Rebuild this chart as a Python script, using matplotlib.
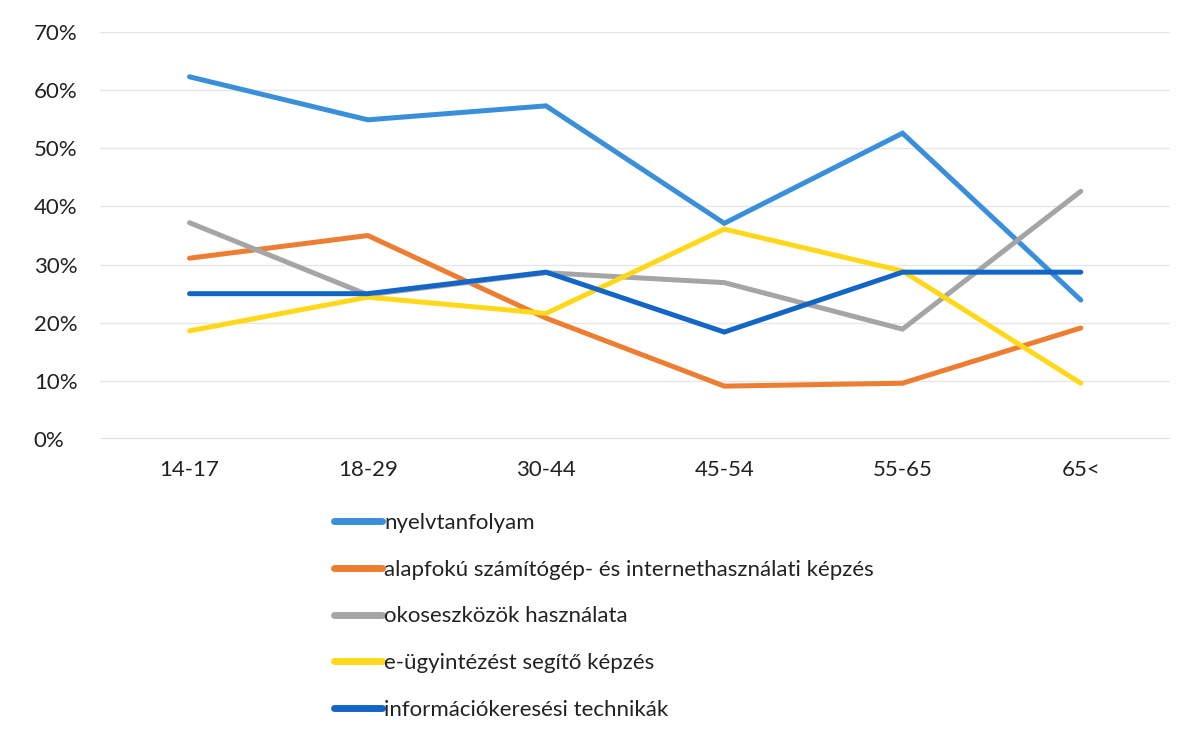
import matplotlib
matplotlib.use("Agg")
import matplotlib.pyplot as plt
from matplotlib.ticker import FuncFormatter

categories = ["14-17", "18-29", "30-44", "45-54", "55-65", "65<"]
series_names = [
    "nyelvtanfolyam",
    "alapfokú számítógép- és internethasználati képzés",
    "okoseszközök használata",
    "e-ügyintézést segítő képzés",
    "információkeresési technikák",
]
nyelv = [62.3, 54.9, 57.3, 37.1, 52.6, 23.9]
alap = [31.1, 35.0, 20.8, 9.1, 9.6, 19.1]
okos = [37.2, 24.8, 28.6, 26.9, 18.9, 42.6]
eugy = [18.6, 24.4, 21.6, 36.1, 28.9, 9.6]
info = [25.0, 25.0, 28.7, 18.4, 28.7, 28.7]
colors = ["#3A8FDA", "#ED7D31", "#A5A5A5", "#FFD81A", "#1466C6"]

plt.rcParams['font.family'] = ['Lato', 'DejaVu Sans']

fig = plt.figure(figsize=(11.95, 7.36), dpi=100)
ax = fig.add_axes([0.084, 0.4035, 0.895, 0.553])

x = list(range(len(categories)))
for vals, name, c in zip([nyelv, alap, okos, eugy, info], series_names, colors):
    ax.plot(x, vals, color=c, lw=3.6, label=name, solid_capstyle='round', solid_joinstyle='miter')

ax.set_xlim(-0.5, len(categories) - 0.5)
ax.set_ylim(0, 70)
ax.set_yticks(range(0, 71, 10))
ax.yaxis.set_major_formatter(FuncFormatter(lambda v, p: f"{int(v)}%"))
ax.set_xticks(x)
ax.set_xticklabels(categories)
ax.grid(axis='y', color='#E6E6E6', lw=1)
ax.set_axisbelow(True)
for s in ax.spines.values():
    s.set_visible(False)
ax.axhline(0, color='#D9D9D9', lw=1.2, zorder=0)
ax.tick_params(axis='both', length=0, labelsize=16, colors='#222222')
ax.tick_params(axis='y', pad=48)
ax.tick_params(axis='x', pad=15)
for lab in ax.get_yticklabels():
    lab.set_horizontalalignment('left')

leg = fig.legend(loc='upper left', bbox_to_anchor=(0.2706, 0.318), frameon=False,
                 fontsize=16, handlelength=2.15, handletextpad=0.1,
                 labelspacing=1.2, borderpad=0)
for t in leg.get_texts():
    t.set_color('#222222')
for h in leg.get_lines():
    h.set_linewidth(5)

fig.savefig("out.png", dpi=100)
